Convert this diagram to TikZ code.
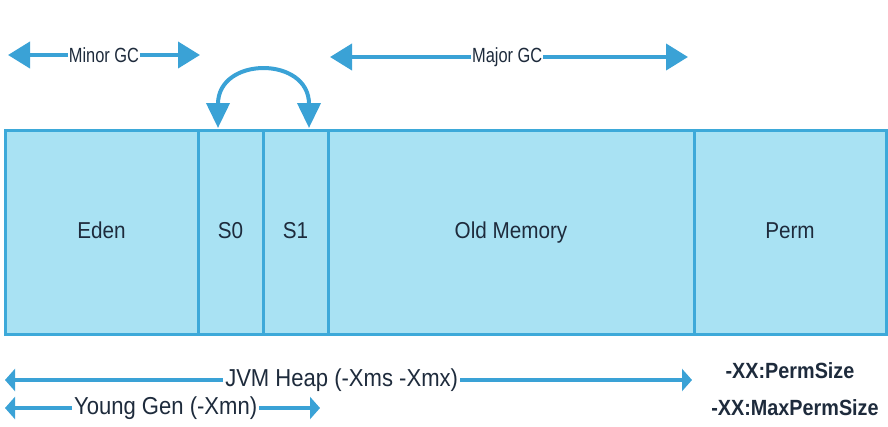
\documentclass[tikz,border=0pt]{standalone}
\usepackage{fontspec}
\setmainfont{Liberation Sans}[FakeStretch=0.9]
\newfontfamily\gcfont{Liberation Sans}[FakeStretch=0.8]
\usepackage{tikz}
\usetikzlibrary{positioning,arrows.meta}
\definecolor{memfill}{HTML}{A9E2F3}
\definecolor{memline}{HTML}{3DA9D9}
\definecolor{gcblue}{HTML}{3AA2D6}
\definecolor{labeltext}{HTML}{1E2B3C}

\begin{document}
\begin{tikzpicture}[x=1pt, y=-1pt,
    mem block/.style={draw=memline, fill=memfill, line width=3pt, rectangle, minimum height=204pt, inner sep=0pt, outer sep=0pt, text height=16pt, text depth=3pt, text=labeltext, font=\fontsize{23}{27}\selectfont},
    gc arrow/.style={draw=gcblue, line width=4pt, {Triangle[length=22pt,width=26pt]}-{Triangle[length=22pt,width=26pt]}},
    swap arrow/.style={draw=gcblue, line width=4pt, {Triangle[length=25pt,width=23pt]}-{Triangle[length=25pt,width=23pt]}},
    size arrow/.style={draw=gcblue, line width=3.5pt, {Triangle[length=10pt,width=22pt]}-{Triangle[length=10pt,width=22pt]}},
    gc label/.style={fill=white, inner sep=1pt, text=labeltext, font=\gcfont\fontsize{20.5}{24}\selectfont},
    size label/.style={fill=white, inner sep=2pt, text=labeltext, font=\fontsize{24.5}{28}\selectfont},
    opt label/.style={text=labeltext, font=\bfseries\fontsize{22}{26}\selectfont}]
    \useasboundingbox (0,0) rectangle (888,426);
    \node[mem block, minimum width=193pt, anchor=north west] (eden) at (5,130) {Eden};
    \node[mem block, minimum width=65pt, right=0pt of eden] (s0) {S0};
    \node[mem block, minimum width=65pt, right=0pt of s0] (s1) {S1};
    \node[mem block, minimum width=366pt, right=0pt of s1] (old) {Old Memory};
    \node[mem block, minimum width=192pt, right=0pt of old] (perm) {Perm};

    \coordinate (minorL) at (8,55);
    \coordinate (minorR) at (200,55);
    \coordinate (majorL) at (330,57);
    \coordinate (majorR) at (688,57);
    \coordinate (heapL) at (5,380);
    \coordinate (heapR) at (692,380);
    \coordinate (youngL) at (5,408);
    \coordinate (youngR) at (320,408);

    \draw[gc arrow] (minorL) -- node[gc label] (minortext) {Minor GC} (minorR);
    \draw[gc arrow] (majorL) -- node[gc label, pos=0.495] (majortext) {Major GC} (majorR);
    \draw[swap arrow] ([xshift=-12.5pt,yshift=2pt]s0.north) .. controls +(0,-72) and +(0,-72) .. ([xshift=13.5pt,yshift=2pt]s1.north);
    \draw[size arrow] (heapL) -- node[size label, pos=0.49] (heaptext) {JVM Heap (-Xms -Xmx)} (heapR);
    \draw[size arrow] (youngL) -- node[size label, pos=0.51] (youngtext) {Young Gen (-Xmn)} (youngR);

    \node[opt label] (permsize) at (790,371) {-XX:PermSize};
    \node[opt label] (maxperm) at (795,408) {-XX:MaxPermSize};
\end{tikzpicture}
\end{document}
